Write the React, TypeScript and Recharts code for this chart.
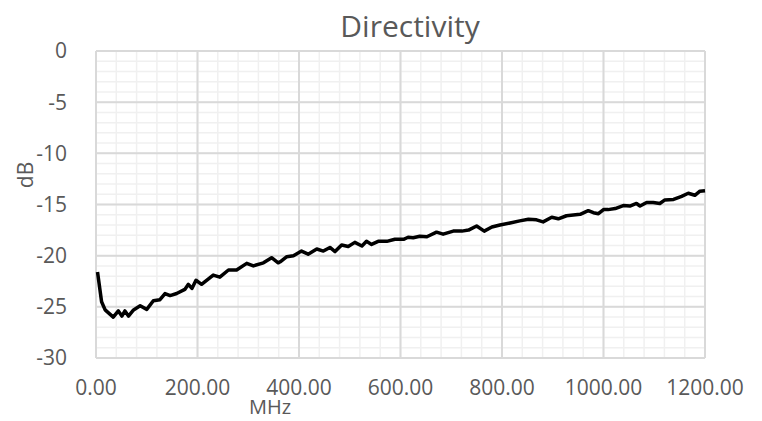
import {
  CartesianGrid,
  Line,
  LineChart,
  XAxis,
  YAxis,
} from "recharts";

// frequency (MHz) and directivity (dB)
const freqs = [
  3, 11, 18, 34, 44, 51, 57, 64, 74, 87,
  100, 113, 126, 136, 146, 159, 175, 182, 189, 197,
  208, 231, 244, 261, 277, 297, 310, 330, 346, 359,
  363, 376, 389, 405, 418, 435, 448, 461, 471, 484,
  497, 510, 524, 533, 543, 556, 573, 589, 606, 615,
  625, 638, 652, 671, 684, 704, 721, 734, 750, 765,
  780, 796, 816, 835, 852, 868, 881, 898, 911, 927,
  954, 970, 980, 990, 1000, 1009, 1023, 1039, 1052, 1065,
  1072, 1085, 1098, 1111, 1121, 1138, 1154, 1167, 1180, 1190,
  1200,
];

const directivity = [
  -21.6, -24.5, -25.3, -26.0, -25.4, -25.9, -25.4, -25.9, -25.3, -24.9,
  -25.25, -24.4, -24.3, -23.7, -23.9, -23.7, -23.3, -22.8, -23.2, -22.4,
  -22.8, -21.9, -22.1, -21.4, -21.4, -20.75, -21.0, -20.7, -20.2, -20.7,
  -20.6, -20.1, -20.0, -19.55, -19.85, -19.35, -19.55, -19.2, -19.6, -18.95,
  -19.1, -18.7, -19.05, -18.6, -18.9, -18.6, -18.6, -18.4, -18.4, -18.2,
  -18.25, -18.1, -18.15, -17.7, -17.9, -17.6, -17.6, -17.5, -17.1, -17.6,
  -17.2, -17.0, -16.8, -16.6, -16.45, -16.5, -16.7, -16.25, -16.4, -16.1,
  -15.96, -15.6, -15.8, -15.9, -15.5, -15.5, -15.4, -15.1, -15.15, -14.9,
  -15.15, -14.8, -14.8, -14.9, -14.55, -14.5, -14.2, -13.9, -14.1, -13.7,
  -13.65,
];

const xTicks = [0, 200, 400, 600, 800, 1000, 1200];
const yTicks = [-30, -25, -20, -15, -10, -5, 0];
const xMinor = Array.from({ length: 31 }, (_, i) => i * 40);
const yMinor = Array.from({ length: 31 }, (_, i) => -i);

const data = freqs.map((f, i) => ({ f, db: directivity[i] }));

const textColor = "#595959";
const font = "'Open Sans', sans-serif";

export default function App() {
  return (
    <div style={{ position: "fixed", left: 0, top: 0, width: 762, height: 421, background: "#fff", fontFamily: font, overflow: "hidden" }}>
      <LineChart
        width={762}
        height={421}
        data={data}
        margin={{ top: 51, right: 57, bottom: 33, left: 0 }}
      >
        <CartesianGrid
          stroke="#f0f0f0"
          strokeWidth={1.5}
          verticalValues={xMinor}
          horizontalValues={yMinor}
        />
        <CartesianGrid
          stroke="#d9d9d9"
          strokeWidth={2}
          verticalValues={xTicks}
          horizontalValues={yTicks}
        />
        <XAxis
          dataKey="f"
          type="number"
          domain={[0, 1200]}
          ticks={xTicks}
          tickFormatter={(v) => v.toFixed(2)}
          axisLine={false}
          tickLine={false}
          tickSize={0}
          tickMargin={22}
          height={30}
          tick={{ fill: textColor, fontSize: 21, fontFamily: font }}
          interval={0}
        />
        <YAxis
          type="number"
          domain={[-30, 0]}
          ticks={yTicks}
          width={96}
          axisLine={false}
          tickLine={false}
          tickSize={0}
          tickMargin={29}
          tick={{ fill: textColor, fontSize: 21, fontFamily: font }}
          interval={0}
        />
        <Line
          type="linear"
          dataKey="db"
          stroke="#000"
          strokeWidth={3.5}
          strokeLinejoin="round"
          dot={false}
          isAnimationActive={false}
        />
      </LineChart>
      <div style={{ position: "absolute", left: 220, width: 100, top: 393, textAlign: "center", fontSize: 20, color: textColor, lineHeight: "normal" }}>
        MHz
      </div>
      <div style={{ position: "absolute", left: 60, width: 700, top: 6, textAlign: "center", fontSize: 30, color: textColor, lineHeight: "40px" }}>
        Directivity
      </div>
      <div style={{ position: "absolute", left: -25, top: 161, width: 100, textAlign: "center", fontSize: 21, color: textColor, lineHeight: "28px", transform: "rotate(-90deg)" }}>
        dB
      </div>
    </div>
  );
}
